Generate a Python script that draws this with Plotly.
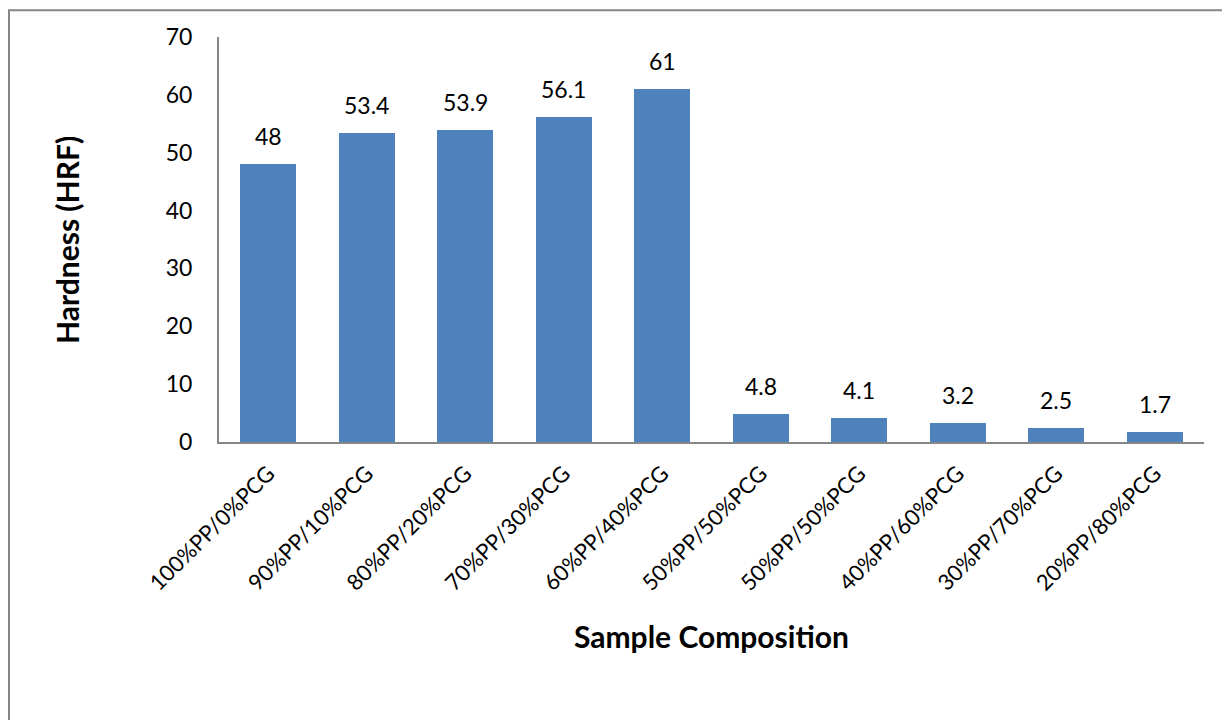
import plotly.graph_objects as go

categories = ["100%PP/0%PCG", "90%PP/10%PCG", "80%PP/20%PCG", "70%PP/30%PCG",
              "60%PP/40%PCG", "50%PP/50%PCG", "50%PP/50%PCG", "40%PP/60%PCG",
              "30%PP/70%PCG", "20%PP/80%PCG"]
hardness = [48, 53.4, 53.9, 56.1, 61, 4.8, 4.1, 3.2, 2.5, 1.7]
labels = ["48", "53.4", "53.9", "56.1", "61", "4.8", "4.1", "3.2", "2.5", "1.7"]
y_ticks = [0, 10, 20, 30, 40, 50, 60, 70]
x_title = "Sample Composition"
y_title = "Hardness (HRF)"

FONT = "Lato, Open Sans, sans-serif"
positions = list(range(len(categories)))

fig = go.Figure()
fig.add_trace(go.Bar(
    x=positions, y=hardness, width=0.57,
    marker=dict(color="#4F81BD", line=dict(width=0)),
    hoverinfo="skip",
))

for xi, yi, lab in zip(positions, hardness, labels):
    fig.add_annotation(x=xi, y=yi, text=lab, showarrow=False, xref="x", yref="y",
                       yanchor="bottom", yshift=12, font=dict(family=FONT, size=23, color="#000"))

fig.add_annotation(x=0.5, y=-0.479, xref="paper", yref="paper", text="<b>%s</b>" % x_title,
                   showarrow=False, xanchor="center", yanchor="middle",
                   font=dict(family=FONT, size=30, color="#000"))
fig.add_annotation(x=-0.1543, y=0.4988, xref="paper", yref="paper", text="<b>%s</b>" % y_title,
                   showarrow=False, xanchor="center", yanchor="middle", textangle=-90,
                   font=dict(family=FONT, size=30, color="#000"))

fig.update_layout(
    width=1222, height=712,
    margin=dict(l=211, r=26, t=29, b=278),
    paper_bgcolor="white", plot_bgcolor="white",
    showlegend=False, bargap=0,
    font=dict(family=FONT, size=22, color="#000"),
    xaxis=dict(
        tickmode="array", tickvals=positions, ticktext=categories,
        tickangle=-45, range=[-0.5, 9.5], showgrid=False, zeroline=False,
        showline=True, linecolor="#868686", linewidth=2, ticks="",
        ticklabelstandoff=8,
        tickfont=dict(family=FONT, size=22, color="#000"),
    ),
    yaxis=dict(
        range=[0, 70], tickvals=y_ticks, showgrid=False, zeroline=False,
        showline=True, linecolor="#868686", linewidth=2, ticks="",
        ticklabelstandoff=20,
        tickfont=dict(family=FONT, size=23, color="#000"),
    ),
)

fig.add_shape(type="rect", xref="paper", yref="paper",
              x0=-0.2132, x1=1.021, y0=-0.8, y1=1.066,
              line=dict(color="#868686", width=2), fillcolor="rgba(0,0,0,0)", layer="below")

fig.write_html("out.html")
